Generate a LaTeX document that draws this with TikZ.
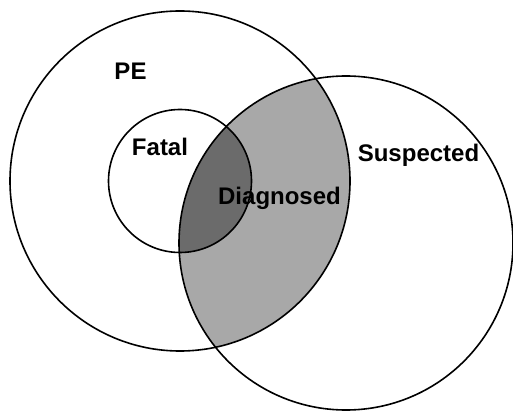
\documentclass[tikz,border=0pt]{standalone}
\usepackage{fontspec}
\setmainfont{Liberation Sans}
\begin{document}
\begin{tikzpicture}[x=1pt, y=-1pt,
	ring/.style={draw=black, line width=1.6pt},
	lbl/.style={anchor=base, inner sep=0pt, font=\fontsize{24}{28}\selectfont\bfseries}]
	\useasboundingbox (0,0) rectangle (513,411);

	% shaded overlaps
	\begin{scope}
		\clip (180,181) circle (170);
		\fill[black!34] (346,243) circle (167);
	\end{scope}
	\begin{scope}
		\clip (180,181) circle (71.5);
		\fill[black!58] (346,243) circle (167);
	\end{scope}

	\draw[ring] (180,181) circle (170);
	\draw[ring] (180,181) circle (71.5);
	\draw[ring] (346,243) circle (167);

	\node[lbl] (pe) at (130.5,80) {PE};
	\node[lbl] (fatal) at (160,155.7) {Fatal};
	\node[lbl] (diagnosed) at (279.5,205) {Diagnosed};
	\node[lbl] (suspected) at (418.5,161.7) {Suspected};
\end{tikzpicture}
\end{document}
